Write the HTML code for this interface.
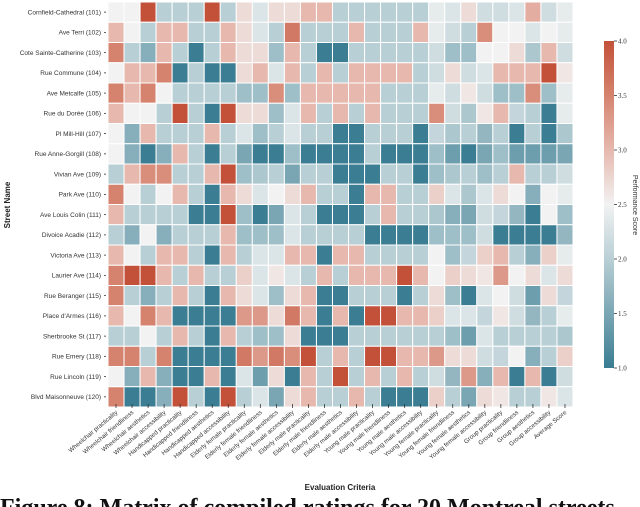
<!DOCTYPE html>
<html><head><meta charset="utf-8"><style>
body{margin:0;background:#fff;width:640px;height:507px;overflow:hidden;font-family:"Liberation Sans",sans-serif}
svg{display:block}
</style></head><body>
<svg id="chart" width="640" height="507" viewBox="0 0 640 507" xmlns="http://www.w3.org/2000/svg">
<defs><linearGradient id="cbg" x1="0" y1="1" x2="0" y2="0">
<stop offset="0" stop-color="#3b7d92"/><stop offset="0.1667" stop-color="#7aa6b4"/><stop offset="0.3333" stop-color="#b8cfd5"/><stop offset="0.5" stop-color="#f2f2f2"/><stop offset="0.6667" stop-color="#e6b8ae"/><stop offset="0.8333" stop-color="#d5836e"/><stop offset="1" stop-color="#c3513a"/></linearGradient></defs>
<g id="cells"></g>
<g id="ylab"></g>
<g id="xlab"></g>
<text transform="translate(10,205) rotate(-90)" text-anchor="middle" font-size="8" font-weight="bold" fill="#222">Street Name</text>
<text x="340" y="490" text-anchor="middle" font-size="8" font-weight="bold" fill="#222">Evaluation Criteria</text>
<rect x="604" y="41" width="10" height="327" fill="url(#cbg)"/>
<g id="cbt"></g>
<text transform="translate(633,205) rotate(90)" text-anchor="middle" font-size="7" fill="#333">Performance Score</text>
<text x="0" y="515" font-family="Liberation Serif, serif" font-size="24" font-weight="bold" fill="#111">Figure 8: Matrix of compiled ratings for 20 Montreal streets</text>
</svg>
<script>
const streets=["Cornfield-Cathedral (101)","Ave Terri (102)","Cote Sainte-Catherine (103)","Rue Commune (104)","Ave Metcalfe (105)","Rue du Dorée (106)","Pl Mill-Hill (107)","Rue Anne-Gorgill (108)","Vivian Ave (109)","Park Ave (110)","Ave Louis Colin (111)","Divoice Acadie (112)","Victoria Ave (113)","Laurier Ave (114)","Rue Beranger (115)","Place d'Armes (116)","Sherbrooke St (117)","Rue Emery (118)","Rue Lincoln (119)","Blvd Maisonneuve (120)"];
const criteria=["Wheelchair practicality","Wheelchair friendliness","Wheelchair aesthetics","Wheelchair accessibility","Handicapped practicality","Handicapped friendliness","Handicapped aesthetics","Handicapped accessibility","Elderly female practicality","Elderly female friendliness","Elderly female aesthetics","Elderly female accessibility","Elderly male practicality","Elderly male friendliness","Elderly male aesthetics","Elderly male accessibility","Young male practicality","Young male friendliness","Young male aesthetics","Young male accessibility","Young female practicality","Young female friendliness","Young female aesthetics","Young female accessibility","Group practicality","Group friendliness","Group aesthetics","Group accessibility","Average Score"];
const scores=[
[2.5,2.5,4.0,2.0,2.0,2.0,4.0,2.0,2.7,2.3,2.7,2.7,3.0,3.0,2.0,2.0,2.0,2.0,2.0,2.0,2.4,2.3,2.7,2.2,2.2,2.3,3.1,2.2,2.4],
[3.0,2.5,2.0,3.0,3.0,2.0,2.0,3.0,2.7,2.3,2.0,3.6,2.0,2.0,2.0,3.0,2.0,2.0,2.0,3.0,2.4,2.2,2.0,3.4,2.5,2.5,2.3,2.5,2.4],
[3.5,2.0,1.6,3.0,2.0,1.0,2.0,3.0,2.7,2.7,1.8,3.0,2.0,1.0,1.0,2.0,2.0,2.0,2.0,2.0,2.2,1.8,1.8,2.5,2.5,2.7,1.9,3.0,2.2],
[2.5,3.0,3.0,3.5,1.0,2.0,1.0,1.0,2.7,3.0,2.3,3.0,2.0,3.0,2.0,3.0,3.0,3.0,3.0,2.0,2.2,2.7,2.2,2.3,3.0,3.0,3.0,4.0,2.6],
[3.5,3.0,3.5,2.5,2.0,2.0,2.0,2.0,1.8,1.8,3.4,1.8,3.0,3.0,3.0,3.0,3.0,2.0,2.0,2.0,2.4,2.2,2.6,2.2,1.8,1.8,3.4,1.8,2.4],
[3.0,2.5,2.5,2.0,4.0,2.0,1.0,4.0,2.7,2.7,1.8,2.3,3.0,2.0,3.0,2.0,3.0,2.0,2.0,2.0,3.4,2.2,1.9,2.6,3.0,2.1,2.0,1.0,2.4],
[2.5,1.6,3.0,2.0,2.0,2.0,3.0,2.0,2.3,1.8,2.0,2.3,2.0,2.0,1.0,1.0,2.0,2.0,2.0,1.0,2.1,1.9,2.0,1.7,2.0,1.0,2.0,1.0,1.9],
[2.5,1.6,1.0,1.6,3.0,2.0,1.0,2.0,1.5,1.0,1.0,1.8,1.0,1.0,1.0,1.0,2.0,1.0,1.0,1.0,1.8,1.4,1.0,1.5,1.8,1.4,1.4,1.4,1.5],
[2.0,3.0,3.4,3.4,2.0,2.0,3.0,4.0,1.8,1.9,2.0,1.5,2.0,2.0,1.0,1.0,1.0,2.0,2.0,1.0,1.8,1.9,2.0,1.8,2.0,3.0,2.0,2.0,2.2],
[3.5,2.5,2.0,2.5,3.0,2.0,1.0,3.0,2.7,2.3,2.5,2.7,3.0,2.0,2.0,1.0,3.0,3.0,2.0,2.0,2.8,2.3,1.9,2.3,2.7,2.5,1.6,2.5,2.4],
[3.0,2.0,2.0,2.0,2.0,1.0,1.0,4.0,1.8,1.0,1.5,2.3,2.0,1.0,1.0,1.0,2.0,3.0,2.0,2.0,1.9,1.6,1.5,2.2,2.1,1.7,1.0,2.5,1.8],
[2.0,1.6,2.5,1.6,2.0,2.0,2.0,3.0,1.8,1.8,1.8,2.3,2.0,2.0,2.0,2.0,1.0,1.0,1.0,1.0,1.8,1.8,1.8,2.2,1.0,1.0,1.0,1.0,1.7],
[3.0,2.5,2.0,3.0,3.0,2.0,1.0,3.0,2.0,2.3,2.3,3.0,3.0,1.0,3.0,3.0,2.0,2.0,2.0,2.0,2.5,1.8,2.1,2.8,3.0,2.0,1.6,2.8,2.4],
[3.5,4.0,4.0,3.0,2.0,3.0,2.0,2.0,2.8,2.3,2.6,2.3,2.0,3.0,2.0,3.0,3.0,3.0,4.0,3.0,2.5,2.8,2.7,2.6,3.3,2.5,2.7,2.3,2.7],
[3.5,2.0,1.6,2.0,3.0,2.0,1.0,3.0,2.7,2.3,1.8,2.7,3.0,1.0,1.0,2.0,2.0,2.0,1.0,2.0,2.7,1.8,1.0,2.3,2.5,2.2,1.4,2.7,2.1],
[3.0,2.5,3.5,3.0,1.0,1.0,1.0,1.0,3.3,3.3,2.7,3.6,3.0,1.0,3.0,1.0,4.0,4.0,3.0,3.0,2.8,2.3,2.3,2.1,2.6,2.2,1.7,2.0,2.4],
[2.0,2.0,2.5,2.0,3.0,2.0,1.0,3.0,2.0,1.8,1.8,2.7,1.0,1.0,1.0,2.0,2.0,2.0,2.0,2.0,2.0,1.8,1.4,2.3,2.0,2.0,2.0,2.0,1.9],
[3.5,3.5,2.0,3.5,1.0,1.0,1.0,1.0,3.6,3.3,3.6,3.4,4.0,2.0,3.0,2.0,4.0,4.0,3.0,3.0,3.3,2.7,2.7,2.2,2.1,2.5,1.6,2.0,2.8],
[2.5,1.6,3.0,1.6,1.0,1.0,3.0,1.0,2.3,1.4,2.7,1.0,3.0,2.0,4.0,2.0,3.0,2.0,3.0,2.0,2.2,1.7,3.3,1.6,3.0,1.0,3.0,1.0,2.2],
[3.5,1.0,1.0,1.6,4.0,2.0,1.0,4.0,2.0,2.3,1.5,2.7,3.0,2.0,2.0,3.0,2.0,1.0,1.0,1.0,2.8,2.0,1.5,2.7,2.6,2.0,2.0,2.6,2.3]];
const cbTicks=["1.0","1.5","2.0","2.5","3.0","3.5","4.0"];
const NS="http://www.w3.org/2000/svg";
const X0=108,X1=573,Y0=2,Y1=407,VMIN=1,VMAX=4,CB0=368,CB1=41;
const cw=(X1-X0)/criteria.length, rh=(Y1-Y0)/streets.length;
const xPos=i=>X0+i*cw, yPos=j=>Y0+j*rh, cbY=v=>CB0+(v-VMIN)/(VMAX-VMIN)*(CB1-CB0);
const stops=[[1,[59,125,146]],[1.5,[122,166,180]],[2,[184,207,213]],[2.5,[242,242,242]],[3,[230,184,174]],[3.5,[213,131,110]],[4,[195,81,58]]];
function color(v){v=Math.max(VMIN,Math.min(VMAX,v));for(let k=0;k<stops.length-1;k++){const a=stops[k],b=stops[k+1];if(v<=b[0]){const t=(v-a[0])/(b[0]-a[0]);return 'rgb('+a[1].map((c,i)=>Math.round(c+(b[1][i]-c)*t)).join(',')+')';}}return 'rgb(195,81,58)';}
function mk(tag,attrs,parent){const e=document.createElementNS(NS,tag);for(const k in attrs)e.setAttribute(k,attrs[k]);parent.appendChild(e);return e;}
const cells=document.getElementById('cells'),yl=document.getElementById('ylab'),xl=document.getElementById('xlab'),cbt=document.getElementById('cbt');
scores.forEach((row,j)=>row.forEach((v,i)=>{const r=mk('rect',{x:xPos(i),y:yPos(j),width:cw,height:rh,fill:color(v),stroke:'#fff','stroke-width':1},cells);

}));
streets.forEach((s,j)=>{const y=yPos(j)+rh/2;const t=mk('text',{x:X0-7,y:y+2.3,'text-anchor':'end','font-size':6.5,fill:'#333'},yl);t.textContent=s;


const l=mk('line',{x1:X0-4,x2:X0-2,y1:y,y2:y,stroke:'#333','stroke-width':0.8},yl);

});
criteria.forEach((c,i)=>{const x=xPos(i)+cw/2;const l=mk('line',{x1:x,x2:x,y1:Y1-3,y2:Y1+1,stroke:'#333','stroke-width':0.8},xl);


const t=mk('text',{transform:'translate('+(x+2)+','+(Y1+6)+') rotate(-40)','text-anchor':'end','font-size':6.2,fill:'#333'},xl);t.textContent=c;

});
cbTicks.forEach(s=>{const y=cbY(parseFloat(s));const l=mk('line',{x1:614,x2:617,y1:y,y2:y,stroke:'#333','stroke-width':0.8},cbt);


const t=mk('text',{x:618,y:y+2.5,'font-size':7,fill:'#333','font-family':'Liberation Serif, serif'},cbt);t.textContent=s;

});
</script>
</body></html>
